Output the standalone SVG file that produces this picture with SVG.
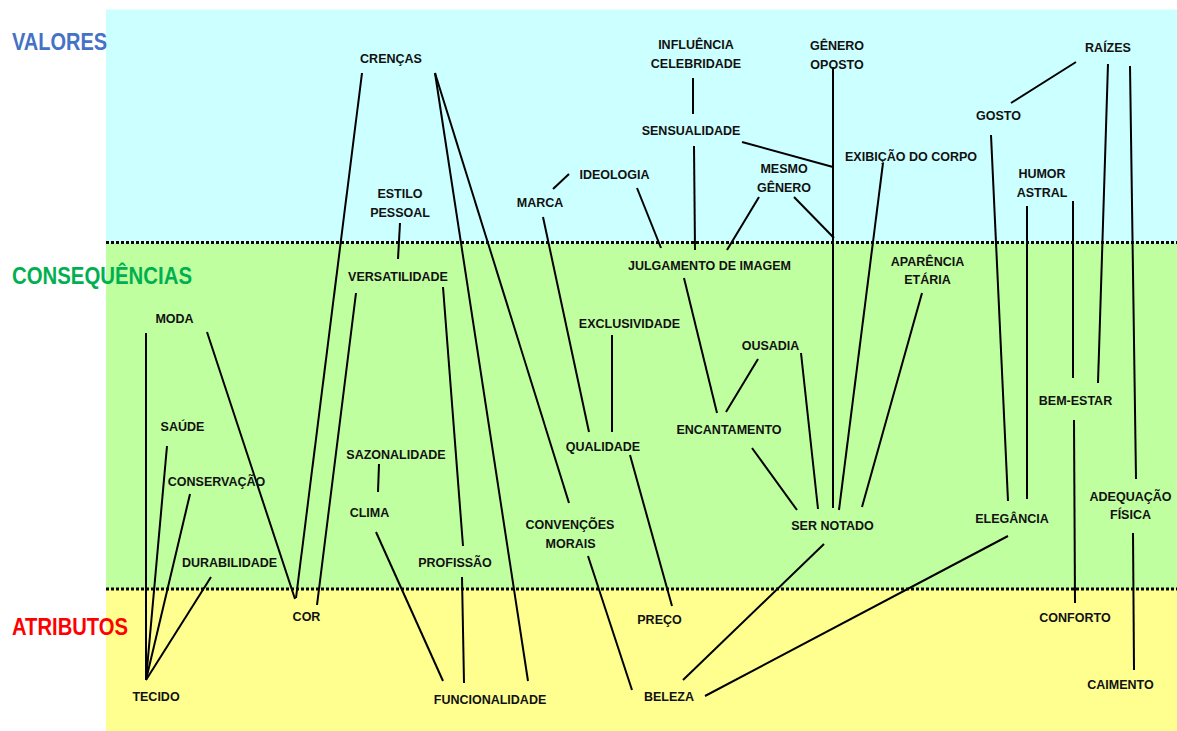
<svg xmlns="http://www.w3.org/2000/svg" width="1177" height="731" viewBox="0 0 1177 731">
<style>
.n{font-family:"Liberation Sans",Arial,sans-serif;font-weight:bold;font-size:12.5px;fill:#111;text-anchor:middle}
.lvl{font-family:"Liberation Sans",Arial,sans-serif;font-weight:bold;font-size:24px}
.c line{stroke:#000;stroke-width:2;stroke-linecap:butt}
.sep{stroke:#000;stroke-width:3;stroke-dasharray:3 2;fill:none}
</style>
<g id="background">
<rect x="106" y="9.5" width="1071" height="233.5" fill="#CCFFFF"/>
<rect x="106" y="243" width="1071" height="346" fill="#C0FFA0"/>
<rect x="106" y="589" width="1071" height="142" fill="#FFFF90"/>
<line class="sep" x1="106" y1="242.5" x2="1177" y2="242.5"/>
<line class="sep" x1="106" y1="589" x2="1177" y2="589"/>
</g>
<g id="levels">
<text class="lvl" x="12" y="50" fill="#4472C4" textLength="95" lengthAdjust="spacingAndGlyphs">VALORES</text>
<text class="lvl" x="12" y="284" fill="#00B050" textLength="180" lengthAdjust="spacingAndGlyphs">CONSEQUÊNCIAS</text>
<text class="lvl" x="12" y="635" fill="#FF0000" textLength="116" lengthAdjust="spacingAndGlyphs">ATRIBUTOS</text>
</g>
<g id="connectors" class="c">
<line x1="146" y1="333" x2="146" y2="680"/>
<line x1="167" y1="446" x2="146" y2="680"/>
<line x1="190" y1="494" x2="146" y2="680"/>
<line x1="211" y1="577" x2="146" y2="680"/>
<line x1="207" y1="332" x2="295" y2="599"/>
<line x1="296" y1="598" x2="362" y2="73"/>
<line x1="317" y1="605" x2="356" y2="293"/>
<line x1="400" y1="223" x2="398" y2="259"/>
<line x1="443" y1="287" x2="463" y2="546"/>
<line x1="462" y1="577" x2="464" y2="683"/>
<line x1="435" y1="73" x2="528" y2="681"/>
<line x1="435" y1="73" x2="569" y2="503"/>
<line x1="588" y1="556" x2="632" y2="690"/>
<line x1="376" y1="532" x2="443" y2="681"/>
<line x1="379" y1="464" x2="378" y2="492"/>
<line x1="543" y1="217" x2="589" y2="432"/>
<line x1="553" y1="189" x2="569" y2="174"/>
<line x1="612" y1="335" x2="612" y2="432"/>
<line x1="630" y1="455" x2="672" y2="606"/>
<line x1="637" y1="188" x2="661" y2="248"/>
<line x1="694" y1="146" x2="695" y2="250"/>
<line x1="693" y1="78" x2="693" y2="114"/>
<line x1="759" y1="197" x2="727" y2="250"/>
<line x1="794" y1="197" x2="834" y2="238"/>
<line x1="742" y1="142" x2="833" y2="167"/>
<line x1="833" y1="67" x2="833" y2="508"/>
<line x1="883" y1="163" x2="839" y2="510"/>
<line x1="922" y1="293" x2="862" y2="507"/>
<line x1="801" y1="353" x2="818" y2="509"/>
<line x1="758" y1="359" x2="726" y2="412"/>
<line x1="684" y1="278" x2="717" y2="413"/>
<line x1="752" y1="448" x2="797" y2="510"/>
<line x1="824" y1="544" x2="683" y2="680"/>
<line x1="1008" y1="536" x2="705" y2="696"/>
<line x1="1011" y1="103" x2="1076" y2="62"/>
<line x1="991" y1="135" x2="1008" y2="501"/>
<line x1="1027" y1="206" x2="1027" y2="499"/>
<line x1="1073" y1="201" x2="1073" y2="378"/>
<line x1="1108" y1="64" x2="1098" y2="383"/>
<line x1="1130" y1="66" x2="1136" y2="479"/>
<line x1="1074" y1="420" x2="1075" y2="603"/>
<line x1="1133" y1="533" x2="1134" y2="670"/>
</g>
<g id="crencas"><text class="n" x="391" y="63">CRENÇAS</text></g>
<g id="influencia"><text class="n" x="696" y="49">INFLUÊNCIA</text><text class="n" x="696" y="68">CELEBRIDADE</text></g>
<g id="sensualidade"><text class="n" x="691" y="135">SENSUALIDADE</text></g>
<g id="ideologia"><text class="n" x="614.5" y="179">IDEOLOGIA</text></g>
<g id="marca"><text class="n" x="540" y="207">MARCA</text></g>
<g id="mesmo-genero"><text class="n" x="784" y="173">MESMO</text><text class="n" x="784" y="192">GÊNERO</text></g>
<g id="genero-oposto"><text class="n" x="837" y="50">GÊNERO</text><text class="n" x="837" y="69">OPOSTO</text></g>
<g id="exibicao"><text class="n" x="911" y="161">EXIBIÇÃO DO CORPO</text></g>
<g id="gosto"><text class="n" x="998.5" y="120">GOSTO</text></g>
<g id="raizes"><text class="n" x="1108" y="52">RAÍZES</text></g>
<g id="humor-astral"><text class="n" x="1042" y="178">HUMOR</text><text class="n" x="1042" y="197">ASTRAL</text></g>
<g id="estilo-pessoal"><text class="n" x="400" y="198">ESTILO</text><text class="n" x="400" y="217">PESSOAL</text></g>
<g id="versatilidade"><text class="n" x="398" y="281">VERSATILIDADE</text></g>
<g id="julgamento"><text class="n" x="709.5" y="270">JULGAMENTO DE IMAGEM</text></g>
<g id="aparencia"><text class="n" x="927.5" y="266">APARÊNCIA</text><text class="n" x="927.5" y="284">ETÁRIA</text></g>
<g id="moda"><text class="n" x="174.5" y="323">MODA</text></g>
<g id="exclusividade"><text class="n" x="629.5" y="328">EXCLUSIVIDADE</text></g>
<g id="ousadia"><text class="n" x="770.5" y="350">OUSADIA</text></g>
<g id="bem-estar"><text class="n" x="1075.5" y="405">BEM-ESTAR</text></g>
<g id="saude"><text class="n" x="182.5" y="431">SAÚDE</text></g>
<g id="encantamento"><text class="n" x="729" y="434">ENCANTAMENTO</text></g>
<g id="qualidade"><text class="n" x="603" y="451">QUALIDADE</text></g>
<g id="sazonalidade"><text class="n" x="396" y="459">SAZONALIDADE</text></g>
<g id="conservacao"><text class="n" x="216.5" y="486">CONSERVAÇÃO</text></g>
<g id="clima"><text class="n" x="369.5" y="517">CLIMA</text></g>
<g id="adequacao"><text class="n" x="1130.5" y="501">ADEQUAÇÃO</text><text class="n" x="1130.5" y="519">FÍSICA</text></g>
<g id="elegancia"><text class="n" x="1012" y="523">ELEGÂNCIA</text></g>
<g id="ser-notado"><text class="n" x="832.5" y="530">SER NOTADO</text></g>
<g id="convencoes"><text class="n" x="570" y="529">CONVENÇÕES</text><text class="n" x="570.5" y="548">MORAIS</text></g>
<g id="durabilidade"><text class="n" x="229.5" y="567">DURABILIDADE</text></g>
<g id="profissao"><text class="n" x="455" y="567">PROFISSÃO</text></g>
<g id="cor"><text class="n" x="306.5" y="621">COR</text></g>
<g id="preco"><text class="n" x="659.5" y="624">PREÇO</text></g>
<g id="conforto"><text class="n" x="1075" y="622">CONFORTO</text></g>
<g id="caimento"><text class="n" x="1120.5" y="689">CAIMENTO</text></g>
<g id="tecido"><text class="n" x="156" y="701">TECIDO</text></g>
<g id="funcionalidade"><text class="n" x="490" y="704">FUNCIONALIDADE</text></g>
<g id="beleza"><text class="n" x="669" y="701">BELEZA</text></g>
</svg>
